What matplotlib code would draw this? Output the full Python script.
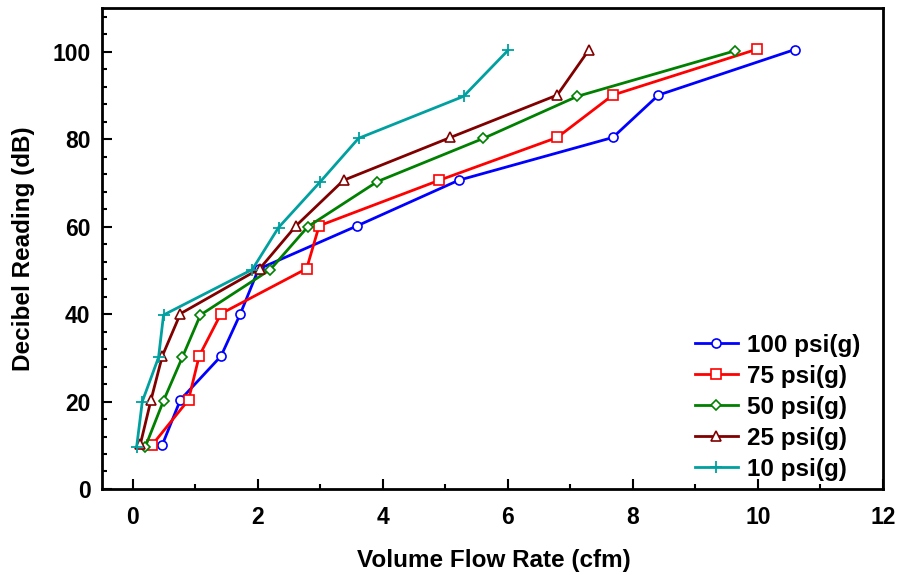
import matplotlib
matplotlib.use("Agg")
import matplotlib.pyplot as plt
from matplotlib.ticker import MultipleLocator

plt.rcParams['font.family'] = ['Liberation Sans', 'DejaVu Sans']
plt.rcParams['font.weight'] = 'bold'

labels = ["100 psi(g)", "75 psi(g)", "50 psi(g)", "25 psi(g)", "10 psi(g)"]

x_100 = [0.47, 0.76, 1.41, 1.72, 2.01, 3.59, 5.21, 7.68, 8.41, 10.59]
y_100 = [10.1, 20.4, 30.4, 40.1, 50.3, 60.2, 70.6, 80.4, 90.1, 100.5]

x_75 = [0.31, 0.89, 1.06, 1.41, 2.78, 2.98, 4.90, 6.79, 7.68, 9.99]
y_75 = [10.1, 20.4, 30.4, 40.1, 50.4, 60.2, 70.6, 80.4, 90.1, 100.6]

x_50 = [0.20, 0.49, 0.79, 1.08, 2.20, 2.80, 3.91, 5.61, 7.11, 9.63]
y_50 = [9.7, 20.2, 30.1, 39.8, 50.2, 60.0, 70.3, 80.2, 89.8, 100.2]

x_25 = [0.12, 0.29, 0.47, 0.76, 2.03, 2.61, 3.37, 5.08, 6.79, 7.30]
y_25 = [10.3, 20.4, 30.4, 40.1, 50.4, 60.2, 70.6, 80.4, 90.1, 100.5]

x_10 = [0.06, 0.15, 0.41, 0.49, 1.91, 2.33, 3.00, 3.61, 5.29, 6.00]
y_10 = [9.7, 20.0, 30.1, 39.8, 50.2, 59.8, 70.3, 80.2, 89.8, 100.3]

series = [(x_100, y_100), (x_75, y_75), (x_50, y_50), (x_25, y_25), (x_10, y_10)]
colors = ['#0000ff', '#ff0000', '#008000', '#800000', '#00a0a0']
markers = ['o', 's', 'D', '^', '+']
msizes = [6.5, 6.5, 5.5, 6.5, 9]

fig = plt.figure(figsize=(8.99, 5.75), dpi=100)
ax = fig.add_axes([0.1131, 0.1496, 0.8689, 0.8364])

for (xs, ys), c, m, ms, lab in zip(series, colors, markers, msizes, labels):
    if m == '+':
        ax.plot(xs, ys, color=c, lw=2, marker=m, ms=ms, mew=1.3, label=lab)
    else:
        ax.plot(xs, ys, color=c, lw=2, marker=m, ms=ms, mfc='white', mec=c,
                mew=1.2, label=lab)

ax.set_xlim(-0.5, 12)
ax.set_ylim(0, 110)
ax.xaxis.set_major_locator(MultipleLocator(2))
ax.xaxis.set_minor_locator(MultipleLocator(1))
ax.set_yticks([0, 20, 40, 60, 80, 100])
ax.yaxis.set_minor_locator(MultipleLocator(4))

ax.tick_params(which='both', direction='in', width=1.5, labelsize=16.5)
ax.tick_params(which='major', length=7)
ax.tick_params(which='minor', length=3.5)
ax.tick_params(axis='x', which='major', pad=12)
ax.tick_params(axis='y', which='major', pad=8)
for lab in ax.get_xticklabels() + ax.get_yticklabels():
    lab.set_fontweight('bold')
for s in ax.spines.values():
    s.set_linewidth(2)

ax.set_xlabel("Volume Flow Rate (cfm)", fontsize=17.5, fontweight='bold')
ax.set_ylabel("Decibel Reading (dB)", fontsize=17.5, fontweight='bold')
ax.xaxis.set_label_coords(0.502, -0.125)
ax.yaxis.set_label_coords(-0.085, 0.5)

leg = ax.legend(loc='upper left', bbox_to_anchor=(0.759, 0.323), frameon=False,
                fontsize=17.5, handlelength=1.77, handletextpad=0.4,
                labelspacing=0.33, borderpad=0, borderaxespad=0)
for t in leg.get_texts():
    t.set_fontweight('bold')

fig.savefig("out.png", dpi=100)
